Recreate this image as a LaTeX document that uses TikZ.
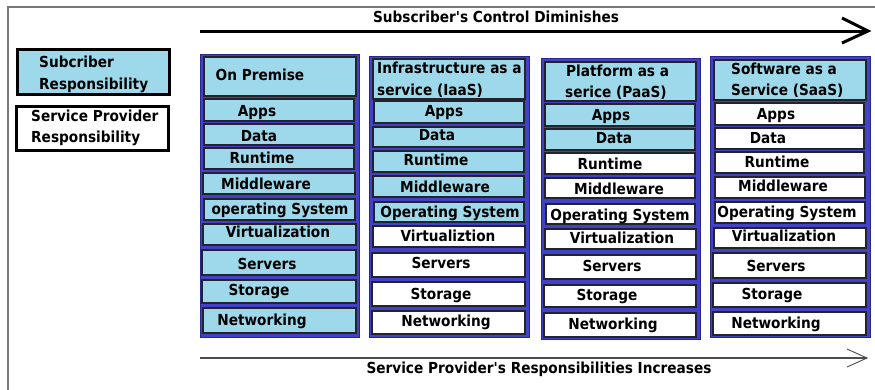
\documentclass[tikz,border=0pt]{standalone}
\usepackage{fontspec}
\setmainfont[Ligatures=TeXOff]{DejaVu Sans Condensed}
\usetikzlibrary{fit}
\definecolor{colblue}{RGB}{66,66,200}
\definecolor{coledge}{RGB}{40,40,140}
\definecolor{subfill}{RGB}{157,217,234}
\definecolor{cellline}{RGB}{35,35,45}
\definecolor{frame}{RGB}{120,120,120}
\tikzset{
  column/.style={fill=colblue, draw=coledge, line width=0.8pt, inner sep=0pt},
  cell/.style={draw=cellline, line width=1.6pt, inner sep=0pt},
  sub/.style={cell, fill=subfill},
  prov/.style={cell, fill=white},
  legendbox/.style={draw=black, line width=3pt, inner sep=0pt},
  % labels are centred on the middle of their capital letters
  txt/.style={font=\bfseries\fontsize{15.2}{17}\selectfont, inner sep=0pt,
    text height=11.1pt, text depth=0pt, text=black},
  hdr/.style={txt, anchor=west},
}
\begin{document}
\begin{tikzpicture}[x=1pt,y=-1pt]
\useasboundingbox (0,0) rectangle (875,389);
\fill[white] (0,0) rectangle (875,389);
% outer frame
\draw[frame, line width=2pt] (8,400) -- (8,7) -- (890,7);

% legend
\node[legendbox, fill=subfill, fit={(17,49)(169,94)}] (legsub) {};
\node[hdr] (legsubt1) at (39,62) {Subcriber};
\node[hdr] (legsubt2) at (39,84) {Responsibility};
\node[legendbox, fill=white, fit={(16,106)(168,150)}] (legprov) {};
\node[hdr] (legprovt1) at (31,116) {Service Provider};
\node[hdr] (legprovt2) at (31,137) {Responsibility};

% top arrow
\coordinate (ta) at (200,31);
\coordinate (tb) at (868,31);
\coordinate (tu) at (842,18);
\coordinate (tl) at (842,43);
\draw[black, line width=3pt] (ta) -- (tb);
\draw[black, line width=3pt, line join=miter] (tu) -- (tb) -- (tl);
\node[txt] (toptitle) at (496,17) {Subscriber's Control Diminishes};

% bottom arrow
\coordinate (ba) at (200,358);
\coordinate (bb) at (867,358);
\coordinate (bu) at (847,349);
\coordinate (bl) at (847,367);
\draw[black!70, line width=1.2pt] (ba) -- (bb);
\draw[black!70, line width=0.9pt] (bu) -- (bb) -- (bl);
\node[txt] (bottitle) at (539,368) {Service Provider's Responsibilities Increases};

% column 1: On Premise
\node[column, fit={(200,54)(359,337)}] (col1) {};
\node[sub, fit={(204,57)(356,96)}] (c1h) {};
\node[sub, fit={(204,99)(354,121)}] (c1a) {};
\node[sub, fit={(204,124)(354,145)}] (c1b) {};
\node[sub, fit={(204,148)(354,169)}] (c1c) {};
\node[sub, fit={(203,173)(355,194)}] (c1d) {};
\node[sub, fit={(204,199)(355,220)}] (c1e) {};
\node[sub, fit={(203,224)(356,245)}] (c1f) {};
\node[sub, fit={(202,250)(356,275)}] (c1g) {};
\node[sub, fit={(202,280)(356,303)}] (c1i) {};
\node[sub, fit={(203,308)(356,333)}] (c1j) {};
\node[txt] (c1ht) at (260,75) {On Premise};
\node[txt] (c1at) at (257,111) {Apps};
\node[txt] (c1bt) at (259,136) {Data};
\node[txt] (c1ct) at (262,158) {Runtime};
\node[txt] (c1dt) at (266,184) {Middleware};
\node[txt] (c1et) at (280,209) {operating System};
\node[txt] (c1ft) at (278,232) {Virtualization};
\node[txt] (c1gt) at (267,264) {Servers};
\node[txt] (c1it) at (259,290) {Storage};
\node[txt] (c1jt) at (262,320) {Networking};

% column 2: IaaS
\node[column, fit={(369,56)(529,337)}] (col2) {};
\node[sub, fit={(373,59)(525,99)}] (c2h) {};
\node[sub, fit={(374,101)(524,123)}] (c2a) {};
\node[sub, fit={(373,127)(524,147)}] (c2b) {};
\node[sub, fit={(373,151)(524,172)}] (c2c) {};
\node[sub, fit={(373,176)(524,197)}] (c2d) {};
\node[sub, fit={(374,202)(524,222)}] (c2e) {};
\node[prov, fit={(373,226)(525,247)}] (c2f) {};
\node[prov, fit={(372,253)(525,277)}] (c2g) {};
\node[prov, fit={(372,282)(525,306)}] (c2i) {};
\node[prov, fit={(372,311)(525,334)}] (c2j) {};
\node[hdr] (c2ht1) at (377,68) {Infrastructure as a};
\node[hdr] (c2ht2) at (377,90) {service (IaaS)};
\node[txt] (c2at) at (444,111) {Apps};
\node[txt] (c2bt) at (437,135) {Data};
\node[txt] (c2ct) at (436,160) {Runtime};
\node[txt] (c2dt) at (445,187) {Middleware};
\node[txt] (c2et) at (450,212) {Operating System};
\node[txt] (c2ft) at (448,236) {Virtualiztion};
\node[txt] (c2gt) at (441,263) {Servers};
\node[txt] (c2it) at (441,294) {Storage};
\node[txt] (c2jt) at (446,321) {Networking};

% column 3: PaaS
\node[column, fit={(541,58)(700,339)}] (col3) {};
\node[sub, fit={(545,62)(696,101)}] (c3h) {};
\node[sub, fit={(545,104)(695,126)}] (c3a) {};
\node[sub, fit={(545,129)(695,150)}] (c3b) {};
\node[prov, fit={(545,153)(695,174)}] (c3c) {};
\node[prov, fit={(545,178)(695,198)}] (c3d) {};
\node[prov, fit={(546,204)(695,224)}] (c3e) {};
\node[prov, fit={(545,229)(696,249)}] (c3f) {};
\node[prov, fit={(544,255)(696,279)}] (c3g) {};
\node[prov, fit={(544,285)(696,307)}] (c3i) {};
\node[prov, fit={(544,313)(696,337)}] (c3j) {};
\node[hdr] (c3ht1) at (566,71) {Platform as a};
\node[hdr] (c3ht2) at (565,92) {serice (PaaS)};
\node[txt] (c3at) at (611,115) {Apps};
\node[txt] (c3bt) at (614,138) {Data};
\node[txt] (c3ct) at (610,164) {Runtime};
\node[txt] (c3dt) at (619,189) {Middleware};
\node[txt] (c3et) at (620,215) {Operating System};
\node[txt] (c3ft) at (622,238) {Virtualization};
\node[txt] (c3gt) at (612,266) {Servers};
\node[txt] (c3it) at (607,295) {Storage};
\node[txt] (c3jt) at (613,324) {Networking};

% column 4: SaaS
\node[column, fit={(710,56)(870,337)}] (col4) {};
\node[sub, fit={(714,60)(866,100)}] (c4h) {};
\node[prov, fit={(715,103)(864,125)}] (c4a) {};
\node[prov, fit={(715,128)(864,149)}] (c4b) {};
\node[prov, fit={(715,152)(864,173)}] (c4c) {};
\node[prov, fit={(715,177)(865,198)}] (c4d) {};
\node[prov, fit={(715,202)(865,223)}] (c4e) {};
\node[prov, fit={(714,228)(866,248)}] (c4f) {};
\node[prov, fit={(713,253)(866,278)}] (c4g) {};
\node[prov, fit={(713,283)(866,307)}] (c4i) {};
\node[prov, fit={(713,312)(866,335)}] (c4j) {};
\node[hdr] (c4ht1) at (731,69) {Software as a};
\node[hdr] (c4ht2) at (731,90) {Service (SaaS)};
\node[txt] (c4at) at (776,114) {Apps};
\node[txt] (c4bt) at (768,138) {Data};
\node[txt] (c4ct) at (777,162) {Runtime};
\node[txt] (c4dt) at (783,186) {Middleware};
\node[txt] (c4et) at (787,212) {Operating System};
\node[txt] (c4ft) at (784,236) {Virtualization};
\node[txt] (c4gt) at (776,266) {Servers};
\node[txt] (c4it) at (772,294) {Storage};
\node[txt] (c4jt) at (776,323) {Networking};
\end{tikzpicture}
\end{document}
